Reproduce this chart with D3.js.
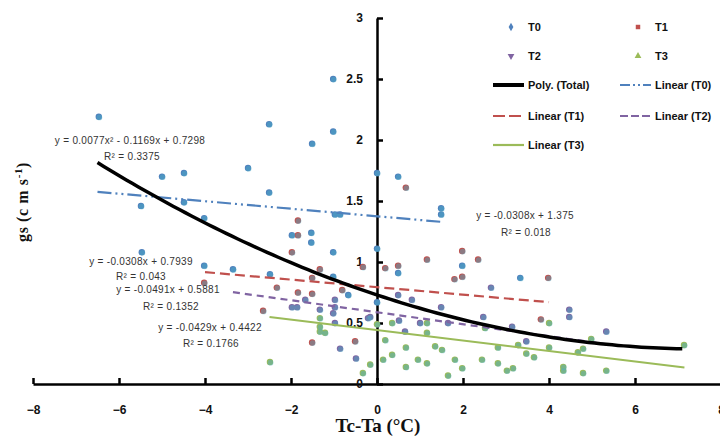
<!DOCTYPE html>
<html>
<head>
<meta charset="utf-8">
<script src="https://cdn.jsdelivr.net/npm/d3@7"></script>
<style>
  html, body { margin: 0; padding: 0; background: #ffffff; }
  svg { display: block; }
</style>
</head>
<body>
<svg id="chart" width="720" height="436"></svg>
<script>
// ---------------- DATA ----------------
const seriesNames = ["T0", "T1", "T2", "T3"];
const xTicks = [-8, -6, -4, -2, 0, 2, 4, 6, 8];
const yTicks = [0, 0.5, 1, 1.5, 2, 2.5, 3];

const t0X = [-6.47, -5.0, -4.49, -3.0, -5.49, -4.49, -4.02, -5.47, -4.02, -2.51, -1.51, -1.02, -1.02,
             -2.51, -0.98, -0.86, -1.98, -1.53, -1.53, -1.02, 0.0, 0.0, 0.49, 1.49, 1.49, -3.35, -2.49,
             -1.02, -0.67, 0.0, 0.49, 1.98, 3.33];
const t0Y = [2.19, 1.70, 1.73, 1.77, 1.46, 1.49, 1.36, 1.08, 0.97, 2.13, 1.97, 2.07, 2.50,
             1.57, 1.39, 1.39, 1.22, 1.24, 1.16, 1.08, 1.73, 1.11, 1.70, 1.44, 1.39, 0.94, 0.90,
             0.88, 0.73, 0.67, 0.91, 0.97, 0.87];

const t1X = [-4.02, -1.84, -1.84, -1.98, -1.33, -0.33, -2.33, -1.84, -1.51, -0.81, -2.65, -1.51,
             -0.51, 0.67, 0.19, 0.49, 1.16, 1.98, 2.35, 1.80, 1.98, 3.98, 3.81, -1.51];
const t1Y = [0.83, 1.34, 1.22, 1.08, 0.94, 0.96, 0.79, 0.75, 0.74, 0.77, 0.60, 0.34,
             0.35, 1.61, 0.95, 0.97, 1.02, 1.09, 1.02, 0.86, 0.88, 0.87, 0.53, 0.87];

const t2X = [-1.67, -1.33, -0.98, -0.98, -1.98, -1.86, -0.16, -0.98, 0.49, 0.81, 1.49, 0.51, 1.0,
             1.65, 2.47, 3.14, 4.47, 4.47, 5.33, 3.47, 0.65, -0.86, -0.49, 2.65, -1.02, -0.21];
const t2Y = [0.69, 0.61, 0.63, 0.69, 0.63, 0.63, 0.55, 0.50, 0.73, 0.69, 0.63, 0.52, 0.50,
             0.50, 0.55, 0.47, 0.61, 0.55, 0.43, 0.35, 0.43, 0.29, 0.21, 0.79, 0.58, 0.54];

const t3X = [-2.49, -1.33, -1.33, -1.33, -1.21, -0.16, -0.33, 0.0, 0.35, 1.16, 2.51, 1.16, 0.19,
             0.67, 1.35, 1.51, 2.81, 0.14, 0.35, 0.67, 0.95, 1.16, 1.81, 1.98, 1.65, 2.44, 2.81,
             3.02, 3.16, 3.28, 4.0, 3.47, 3.65, 4.0, 4.98, 4.79, 4.67, 4.33, 4.33, 4.79, 5.33, 7.14];
const t3Y = [0.18, 0.54, 0.47, 0.43, 0.42, 0.16, 0.09, 0.49, 0.50, 0.50, 0.46, 0.42, 0.36,
             0.30, 0.31, 0.28, 0.30, 0.20, 0.24, 0.14, 0.20, 0.17, 0.20, 0.13, 0.07, 0.20, 0.17,
             0.11, 0.13, 0.32, 0.50, 0.25, 0.22, 0.30, 0.37, 0.29, 0.26, 0.14, 0.11, 0.09, 0.11, 0.32];

// Trend lines (from the chart's equations)
const polyCoef = [0.0077, -0.1169, 0.7298];   // a x^2 + b x + c
const polyRange = [-6.5, 7.1];
const linSlope = [-0.0308, -0.0308, -0.0491, -0.0429];
const linIntercept = [1.375, 0.7939, 0.5881, 0.4422];
const linRange = [[-6.5, 1.5], [-4.0, 4.0], [-3.35, 5.3], [-2.5, 7.15]];

const eqLabels = [
  ["y = 0.0077x\u00B2 - 0.1169x + 0.7298", "R\u00B2 = 0.3375"],
  ["y = -0.0308x + 1.375", "R\u00B2 = 0.018"],
  ["y = -0.0308x + 0.7939", "R\u00B2 = 0.043"],
  ["y = -0.0491x + 0.5881", "R\u00B2 = 0.1352"],
  ["y = -0.0429x + 0.4422", "R\u00B2 = 0.1766"]
];
const eqPos = [[130, 140, 132, 156], [525, 215, 526, 232], [141, 261, 141, 276],
               [168, 289, 171, 306], [210, 327, 211, 343]];

// ---------------- STYLE ----------------
const colors = ["#4f81bd", "#c0504d", "#8064a2", "#9bbb59"];
const totalColor = "#4bacc6";
const dashes = ["14,4,2,4,2,4", "10,5", "7,5", null];

// ---------------- CHART ----------------
const svg = d3.select("#chart");
const x = d3.scaleLinear().domain([-8, 8]).range([33, 721]);
const y = d3.scaleLinear().domain([0, 3]).range([384, 18]);

// Axes
const xAxis = svg.append("g").attr("transform", `translate(0,${y(0)})`)
  .call(d3.axisBottom(x).tickValues(xTicks).tickSize(-6).tickSizeOuter(0).tickPadding(21)
        .tickFormat(d3.format("d")));
const yAxis = svg.append("g").attr("transform", `translate(${x(0)},0)`)
  .call(d3.axisLeft(y).tickValues(yTicks).tickSize(-6).tickSizeOuter(0).tickPadding(14)
        .tickFormat(d => d));
[xAxis, yAxis].forEach(g => {
  g.select(".domain").attr("stroke", "#000").attr("stroke-width", 2.5);
  g.selectAll(".tick line").attr("stroke", "#000").attr("stroke-width", 2.5);
  g.selectAll(".tick text").attr("fill", "#111")
    .style("font-family", "'Liberation Sans', Arial, sans-serif")
    .style("font-weight", "bold").style("font-size", "12px");
});

// Points
const sx = [t0X, t1X, t2X, t3X];
const sy = [t0Y, t1Y, t2Y, t3Y];
const pts = [];
sx.forEach((xs, i) => xs.forEach((v, j) => pts.push({ s: i, x: v, y: sy[i][j] })));

svg.append("g").selectAll("circle").data(pts).enter().append("circle")
  .attr("cx", d => x(d.x)).attr("cy", d => y(d.y)).attr("r", 3.2)
  .attr("fill", d => colors[d.s]);
svg.append("g").selectAll("circle").data(pts).enter().append("circle")
  .attr("cx", d => x(d.x) + 0.6).attr("cy", d => y(d.y) + 0.6).attr("r", 2.9)
  .attr("fill", totalColor).attr("opacity", 0.45);

// Linear trend lines
const line = d3.line().x(d => x(d[0])).y(d => y(d[1]));
const drawOrder = [3, 2, 1, 0];
drawOrder.forEach(i => {
  const r = linRange[i];
  const p = r.map(v => [v, linSlope[i] * v + linIntercept[i]]);
  svg.append("path").attr("d", line(p)).attr("fill", "none")
    .attr("stroke", colors[i]).attr("stroke-width", 2.2)
    .attr("stroke-dasharray", dashes[i]);
});

// Polynomial trend
const polyPts = d3.range(0, 101).map(k => {
  const v = polyRange[0] + (polyRange[1] - polyRange[0]) * k / 100;
  return [v, polyCoef[0] * v * v + polyCoef[1] * v + polyCoef[2]];
});
svg.append("path").attr("d", line(polyPts)).attr("fill", "none")
  .attr("stroke", "#000").attr("stroke-width", 3.5);

// Equation labels
const eqG = svg.append("g").style("font-family", "'Liberation Sans', Arial, sans-serif")
  .style("font-size", "10px").style("letter-spacing", "0.3px")
  .attr("fill", "#333").attr("text-anchor", "middle");
eqLabels.forEach((lab, i) => {
  eqG.append("text").attr("x", eqPos[i][0]).attr("y", eqPos[i][1]).attr("dy", "0.35em").text(lab[0]);
  eqG.append("text").attr("x", eqPos[i][2]).attr("y", eqPos[i][3]).attr("dy", "0.35em").text(lab[1]);
});

// Axis titles
svg.append("text").attr("x", 378).attr("y", 432).attr("text-anchor", "middle")
  .style("font-family", "'Liberation Serif', 'Times New Roman', serif")
  .style("font-weight", "bold").style("font-size", "19px").attr("fill", "#111")
  .text("Tc-Ta (\u00B0C)");
const yt = svg.append("text").attr("transform", "translate(28,202) rotate(-90)")
  .attr("text-anchor", "middle")
  .style("font-family", "'Liberation Serif', 'Times New Roman', serif")
  .style("font-weight", "bold").style("font-size", "16px").style("letter-spacing", "0.6px")
  .attr("fill", "#111");
yt.append("tspan").text("gs (c m s");
yt.append("tspan").attr("dy", "-6").style("font-size", "11px").text("-1");
yt.append("tspan").attr("dy", "6").text(")");

// Legend
const lg = svg.append("g").style("font-family", "'Liberation Sans', Arial, sans-serif")
  .style("font-weight", "bold").style("font-size", "11px").attr("fill", "#111");
const sym = [d3.symbolDiamond, d3.symbolSquare, d3.symbolTriangle, d3.symbolTriangle];
const mPos = [[511, 27], [638, 27], [511, 56], [638, 56]];
seriesNames.forEach((n, i) => {
  lg.append("path").attr("d", d3.symbol(sym[i], 20)())
    .attr("transform", `translate(${mPos[i][0]},${mPos[i][1]})` + (i === 2 ? " rotate(180)" : ""))
    .attr("fill", colors[i]);
  lg.append("text").attr("x", mPos[i][0] + 17).attr("y", mPos[i][1]).attr("dy", "0.35em").text(n);
});
const lineLeg = [
  { name: "Poly. (Total)", c: "#000", w: 4, dash: null, x: 493, yy: 85 },
  { name: "Linear (T0)", c: colors[0], w: 2.2, dash: "10,3,2,3,2,3", x: 620, yy: 85 },
  { name: "Linear (T1)", c: colors[1], w: 1.8, dash: "12,4", x: 493, yy: 116 },
  { name: "Linear (T2)", c: colors[2], w: 1.8, dash: "8,3", x: 620, yy: 116 },
  { name: "Linear (T3)", c: colors[3], w: 2.2, dash: null, x: 493, yy: 145 }
];
lineLeg.forEach(d => {
  lg.append("line").attr("x1", d.x).attr("x2", d.x + 31).attr("y1", d.yy).attr("y2", d.yy)
    .attr("stroke", d.c).attr("stroke-width", d.w).attr("stroke-dasharray", d.dash);
  lg.append("text").attr("x", d.x + 35).attr("y", d.yy).attr("dy", "0.35em").text(d.name);
});
</script>
</body>
</html>
